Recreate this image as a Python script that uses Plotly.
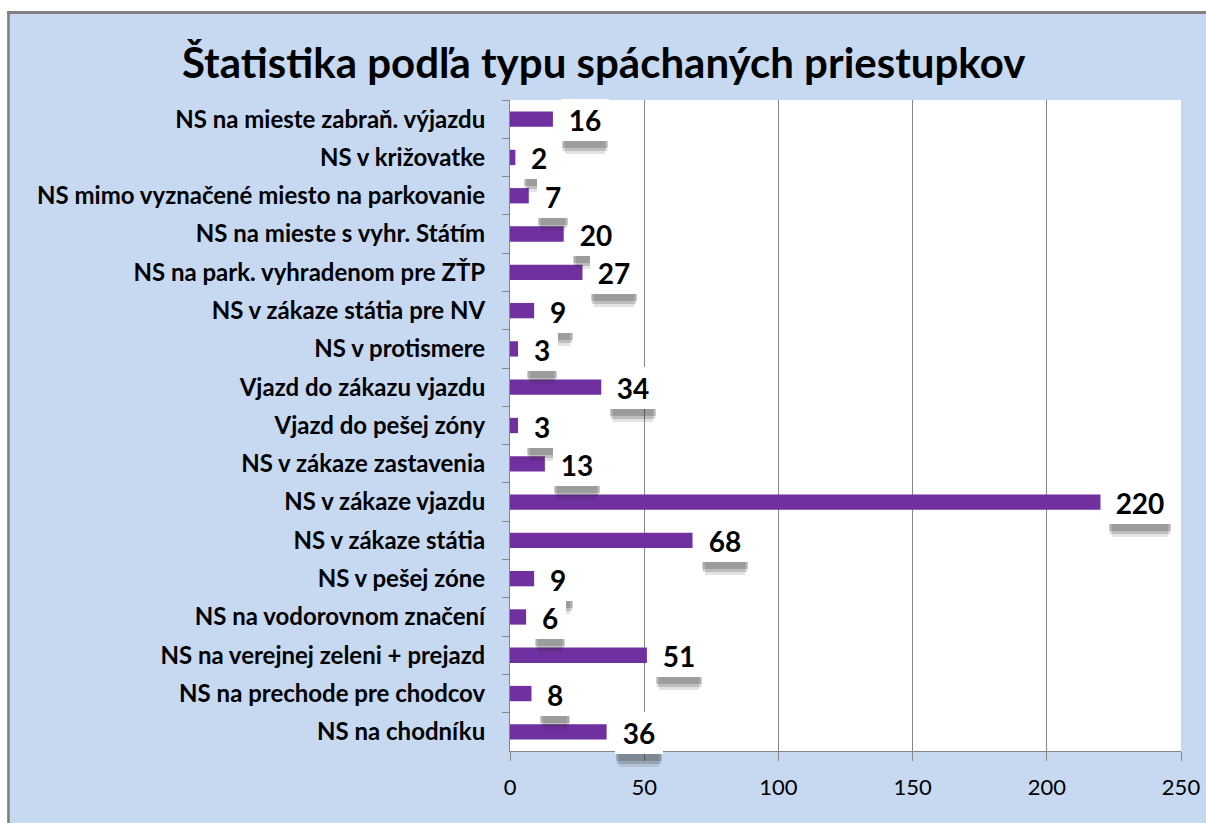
import plotly.graph_objects as go

title_text = "Štatistika podľa typu spáchaných priestupkov"
categories = [
    "NS na mieste zabraň. výjazdu",
    "NS v križovatke",
    "NS mimo vyznačené miesto na parkovanie",
    "NS na mieste s vyhr. Státím",
    "NS na park. vyhradenom pre ZŤP",
    "NS v zákaze státia pre NV",
    "NS v protismere",
    "Vjazd do zákazu vjazdu",
    "Vjazd do pešej zóny",
    "NS v zákaze zastavenia",
    "NS v zákaze vjazdu",
    "NS v zákaze státia",
    "NS v pešej zóne",
    "NS na vodorovnom značení",
    "NS na verejnej zeleni + prejazd",
    "NS na prechode pre chodcov",
    "NS na chodníku",
]
values = [16, 2, 7, 20, 27, 9, 3, 34, 3, 13, 220, 68, 9, 6, 51, 8, 36]
x_ticks = [0, 50, 100, 150, 200, 250]

W, H = 1206, 823
ML, MR, MT, MB = 510, 25, 100, 72
PW, PH = W - ML - MR, H - MT - MB

BG = "#c6d9f0"
GRID = "#868686"
BAR = "#7030a0"
FONT = "Lato"

fig = go.Figure(go.Bar(
    x=values, y=categories, orientation="h",
    marker=dict(color=BAR, line=dict(width=0)),
    hoverinfo="x+y",
))

def px_to_paper_x(px):
    return (px - ML) / PW

def py_to_paper_y(py):
    return 1 - (py - MT) / PH

shapes = [
    dict(type="rect", xref="paper", yref="paper", layer="below",
         x0=px_to_paper_x(-5), x1=px_to_paper_x(W + 5), y0=py_to_paper_y(11), y1=py_to_paper_y(-5),
         fillcolor="white", line=dict(width=0)),
    dict(type="rect", xref="paper", yref="paper", layer="below",
         x0=px_to_paper_x(-5), x1=px_to_paper_x(7), y0=py_to_paper_y(H + 5), y1=py_to_paper_y(-5),
         fillcolor="white", line=dict(width=0)),
    dict(type="line", xref="paper", yref="paper",
         x0=px_to_paper_x(7), x1=px_to_paper_x(W + 5), y0=py_to_paper_y(12.5), y1=py_to_paper_y(12.5),
         line=dict(color="#808080", width=3)),
    dict(type="line", xref="paper", yref="paper",
         x0=px_to_paper_x(8.5), x1=px_to_paper_x(8.5), y0=py_to_paper_y(11), y1=py_to_paper_y(H + 5),
         line=dict(color="#808080", width=2.5)),
]

BOX_SHIFT_X, BOX_SHIFT_Y, BOX_H = 8, -1, 42
# soft drop shadow: (extra downward offset, horizontal inset, alpha)
SHADOW_LAYERS = [(13, 4, 0.13), (10, 2, 0.2), (7, 1, 0.22)]

def box_width(v):
    return 16 + 16 * len(str(v))

annotations = []
for dy, inset, alpha in SHADOW_LAYERS:
    for cat, v in zip(categories, values):
        annotations.append(dict(
            x=v, y=cat, xref="x", yref="y", text=str(v), showarrow=False,
            xanchor="left", yanchor="middle",
            xshift=BOX_SHIFT_X + inset, yshift=BOX_SHIFT_Y - dy,
            width=box_width(v) - 2 * inset, height=BOX_H, borderpad=0, borderwidth=0,
            bgcolor="rgba(40,40,40,%.2f)" % alpha,
            font=dict(family=FONT, size=28, color="rgba(0,0,0,0)"),
        ))
for cat, v in zip(categories, values):
    annotations.append(dict(
        x=v, y=cat, xref="x", yref="y", text="<b>%d</b>" % v, showarrow=False,
        xanchor="left", yanchor="middle", xshift=BOX_SHIFT_X, yshift=BOX_SHIFT_Y,
        width=box_width(v), height=BOX_H, borderpad=0, borderwidth=0,
        bgcolor="white",
        font=dict(family=FONT, size=28, color="black"),
    ))

annotations.append(dict(
    xref="paper", yref="paper", x=px_to_paper_x(603), y=py_to_paper_y(62),
    xanchor="center", yanchor="middle", showarrow=False,
    text="<b>%s</b>" % title_text,
    font=dict(family=FONT, size=42, color="black"),
))

fig.update_layout(
    width=W, height=H, autosize=False,
    margin=dict(l=ML, r=MR, t=MT, b=MB, pad=0, autoexpand=False),
    paper_bgcolor=BG, plot_bgcolor="white",
    bargap=0.6, showlegend=False,
    shapes=shapes, annotations=annotations,
    font=dict(family=FONT, color="black"),
)
fig.update_xaxes(
    range=[0, 250], autorange=False, tickvals=x_ticks, ticktext=[str(t) for t in x_ticks],
    showgrid=True, gridcolor=GRID, gridwidth=1,
    showline=True, linecolor=GRID, linewidth=1,
    ticks="outside", ticklen=9, tickcolor=GRID, tickwidth=1,
    tickfont=dict(family=FONT, size=22, color="black"),
    ticklabelstandoff=8, zeroline=False, fixedrange=True, automargin=False,
)
fig.update_yaxes(
    categoryorder="array", categoryarray=categories,
    range=[len(categories) - 0.5, -0.5], autorange=False,
    showline=True, linecolor=GRID, linewidth=1, mirror=False,
    ticks="outside", ticklen=7, tickcolor=GRID, tickwidth=1,
    tickson="boundaries",
    tickfont=dict(family=FONT, size=24, color="black"),
    ticklabelstandoff=19, showgrid=False, fixedrange=True, automargin=False,
    tickprefix="<b>", ticksuffix="</b>",
)

fig.write_html(
    "out.html",
    config={"displayModeBar": False},
    post_script="document.body.style.margin='0';document.body.style.overflow='hidden';",
)
